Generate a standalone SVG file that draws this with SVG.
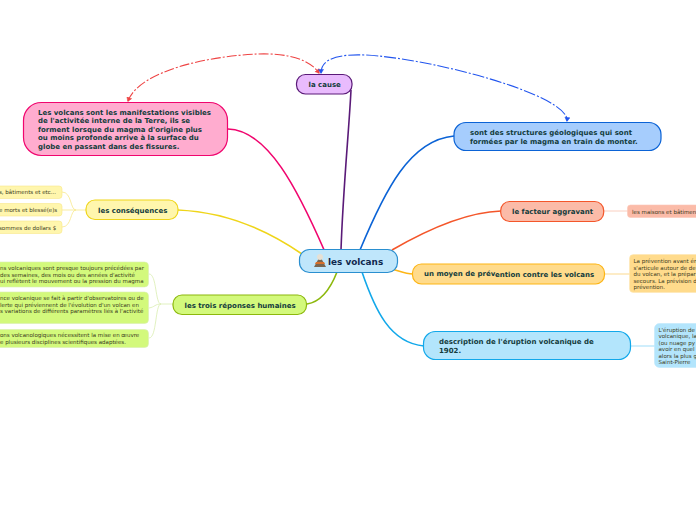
<svg xmlns="http://www.w3.org/2000/svg" width="696" height="520" viewBox="0 0 696 520">
<style>
text{font-family:"DejaVu Sans","Liberation Sans",sans-serif;}
.t{font-size:7px;font-weight:700;fill:#133c3c;}
.s{font-size:5.5px;fill:#3a3a20;}
.n{stroke-width:1.2;}
.c{fill:none;stroke-width:1.6;}
.d{fill:none;stroke-width:.8;}
.rel{fill:none;stroke-width:1.1;}
</style>
<defs>
<marker id="ar" markerWidth="6" markerHeight="6" refX="4" refY="3" orient="auto-start-reverse" markerUnits="userSpaceOnUse"><path d="M0.500,0.500L4.500,3L0.500,5.500z" fill="#ee4444" stroke="#ee4444" stroke-width=".5"/></marker>
<marker id="ab" markerWidth="6" markerHeight="6" refX="4" refY="3" orient="auto-start-reverse" markerUnits="userSpaceOnUse"><path d="M0.500,0.500L4.500,3L0.500,5.500z" fill="#2255ee" stroke="#2255ee" stroke-width=".5"/></marker>
</defs>
<g id="connectors">
<path class="c" stroke="#f0056e" d="M228,129C268,130 298,190 325,252"/>
<path class="c" stroke="#5a1a78" d="M351,90C349,130 343,190 341,250"/>
<path class="c" stroke="#0b63d6" d="M454,136C410,140 385,190 360,250"/>
<path class="c" stroke="#f4562a" d="M392,250C430,228 470,212 501,211"/>
<path class="c" stroke="#fdb515" d="M388,268C398,270 404,274 413,274"/>
<path class="c" stroke="#12a8ea" d="M362,272C375,310 390,343 424,346"/>
<path class="c" stroke="#efd51a" d="M178,210C230,212 270,232 302,254"/>
<path class="c" stroke="#8cb80c" d="M307,304C320,302 330,290 337,272"/>
<path class="d" stroke="#f8e88a" d="M86,210H76C70,210 72,192 62,192M76,210H62M76,210C70,210 72,227 62,227"/>
<path class="d" stroke="#d9eeb0" d="M173,304H161C155,304 157,274 149,274M161,304C155,304 155,307 149,308M161,304C155,304 157,338 149,338"/>
<path class="d" stroke="#f9c3b0" d="M604,211H628"/>
<path class="d" stroke="#fde6b4" d="M605,274H630" style="stroke-width:1.5"/>
<path class="d" stroke="#bfe8fb" d="M631,346H655" style="stroke-width:1.5"/>
<path class="rel" stroke="#ee4444" stroke-dasharray="10 2 2 2" marker-start="url(#ar)" marker-end="url(#ar)" d="M128,101C140,70 210,56 258,54C290,53 310,60 319,73"/>
<path class="rel" stroke="#2255ee" stroke-dasharray="12 2 2 2" marker-start="url(#ab)" marker-end="url(#ab)" d="M321,73C321,58 340,54 365,55C430,58 570,95 567,121"/>
</g>
<g id="n-central"><rect class="n" x="299.500" y="249.500" width="98" height="23" rx="10" fill="#bfe6fb" stroke="#2a8fd0"/>
<polygon points="314,267 319,258 321,258 326,267" fill="#7a6650"/><circle cx="320" cy="257" r="3" fill="#e6e0d4"/><path d="M316,262h8l1,2h-10z" fill="#d9702a"/>
<text x="328" y="264.500" font-size="8.900" font-weight="700" fill="#10284e">les volcans</text></g>
<g id="n-cause"><rect class="n" x="296.500" y="74.500" width="55.500" height="19.500" rx="9" fill="#e9bbfd" stroke="#5a1a78"/><text class="t" x="308.500" y="87">la cause</text></g>
<g id="n-definition"><rect class="n" x="23.500" y="102.500" width="204" height="53" rx="18" fill="#ffaccf" stroke="#f0056e"/>
<text class="t" x="38" y="115">Les volcans sont les manifestations visibles</text>
<text class="t" x="38" y="123.400">de l'activitée interne de la Terre, ils se</text>
<text class="t" x="38" y="132">forment lorsque du magma d'origine plus</text>
<text class="t" x="38" y="140.400">ou moins profonde arrive à la surface du</text>
<text class="t" x="38" y="149">globe en passant dans des fissures.</text></g>
<g id="n-structures"><rect class="n" x="454" y="122.500" width="207" height="28" rx="12" fill="#a6cdfd" stroke="#0b63d6"/>
<text class="t" x="470" y="135">sont des structures géologiques qui sont</text>
<text class="t" x="470" y="143.500">formé</text><text class="t" x="493.500" y="144">es par le magma en train de monter.</text></g>
<g id="n-facteur"><rect class="n" x="500.700" y="201.500" width="103" height="20" rx="9" fill="#fbbba8" stroke="#f4562a"/><text class="t" x="512" y="214">le facteur aggravant</text></g>
<g id="n-facteur-d"><rect x="627.500" y="205" width="80" height="12.500" rx="3" fill="#fbbba8" stroke="#fbc8b8" stroke-width=".6"/><text class="s" x="632" y="213.500">les maisons et bâtimen</text></g>
<g id="n-prevention"><rect class="n" x="412.500" y="264" width="192" height="20" rx="9" fill="#ffdb8c" stroke="#fdb515"/>
<text class="t" x="424" y="276">un moyen de prév</text><text class="t" x="495" y="277">ention contre les volcans</text></g>
<g id="n-prevention-d"><rect x="629.500" y="254.500" width="80" height="38" rx="4" fill="#ffdb8c" stroke="#fde6b4" stroke-width=".6"/>
<text class="s" x="633.500" y="263">La prévention avant ér</text>
<text class="s" x="633.500" y="269.500">s'articule autour de de</text>
<text class="s" x="633.500" y="276">du volcan, et la prépar</text>
<text class="s" x="633.500" y="282.500">secours. La prévision d</text>
<text class="s" x="633.500" y="289">prévention.</text></g>
<g id="n-description"><rect class="n" x="423.500" y="331.500" width="207" height="28" rx="12" fill="#b3e5fc" stroke="#12a8ea"/>
<text class="t" x="439" y="344">description de l'éruption volcanique de</text>
<text class="t" x="439" y="352.500">1902.</text></g>
<g id="n-description-d"><rect x="654.500" y="323.500" width="60" height="44" rx="5" fill="#b3e5fc" stroke="#bfe8fb" stroke-width=".6"/>
<text class="s" x="658.500" y="332">L'éruption de</text>
<text class="s" x="658.500" y="338">volcanique, la</text>
<text class="s" x="658.500" y="344.500">(ou nuage py</text>
<text class="s" x="658.500" y="351">avoir en quel</text>
<text class="s" x="658.500" y="357.500">alors la plus g</text>
<text class="s" x="658.500" y="363.500">Saint-Pierre</text></g>
<g id="n-consequences"><rect class="n" x="86" y="200" width="92" height="19.500" rx="9" fill="#fff6ad" stroke="#efd51a"/><text class="t" x="98" y="212.500">les conséquences</text></g>
<g id="n-cons-1"><rect x="-10" y="186" width="72" height="12.500" rx="3" fill="#fff6ad" stroke="#f8e88a" stroke-width=".6"/><text class="s" x="-1" y="194">s, bâtiments et etc...</text></g>
<g id="n-cons-2"><rect x="-10" y="203.500" width="72" height="12.500" rx="3" fill="#fff6ad" stroke="#f8e88a" stroke-width=".6"/><text class="s" x="-1" y="212">e morts et blessé(e)s</text></g>
<g id="n-cons-3"><rect x="-10" y="221" width="72" height="12.500" rx="3" fill="#fff6ad" stroke="#f8e88a" stroke-width=".6"/><text class="s" x="-1" y="229.500">sommes de dollars $</text></g>
<g id="n-reponses"><rect class="n" x="173" y="295" width="133.500" height="19.500" rx="9" fill="#d3f97c" stroke="#8cb80c"/><text class="t" x="184.500" y="307.500">les trois réponses humaines</text></g>
<g id="n-rep-1"><rect x="-10" y="262" width="158.500" height="25" rx="4" fill="#d3f97c" stroke="#d9eeb0" stroke-width=".6"/>
<text class="s" x="0" y="270">ns volcaniques sont presque toujours précédées par</text>
<text class="s" x="0" y="276.500">des semaines, des mois ou des années d'activité</text>
<text class="s" x="0" y="283">ui reflètent le mouvement ou la pression du magma</text></g>
<g id="n-rep-2"><rect x="-10" y="292" width="158.500" height="31.500" rx="4" fill="#d3f97c" stroke="#d9eeb0" stroke-width=".6"/>
<text class="s" x="0" y="300">nce volcanique se fait à partir d'observatoires ou de</text>
<text class="s" x="0" y="306.500">lerte qui préviennent de l'évolution d'un volcan en</text>
<text class="s" x="0" y="313">s variations de différents paramètres liés à l'activité</text></g>
<g id="n-rep-3"><rect x="-10" y="329.500" width="158.500" height="18" rx="4" fill="#d3f97c" stroke="#d9eeb0" stroke-width=".6"/>
<text class="s" x="0" y="337">ons volcanologiques nécessitent la mise en œuvre</text>
<text class="s" x="0" y="344">e plusieurs disciplines scientifiques adaptées.</text></g>
</svg>
